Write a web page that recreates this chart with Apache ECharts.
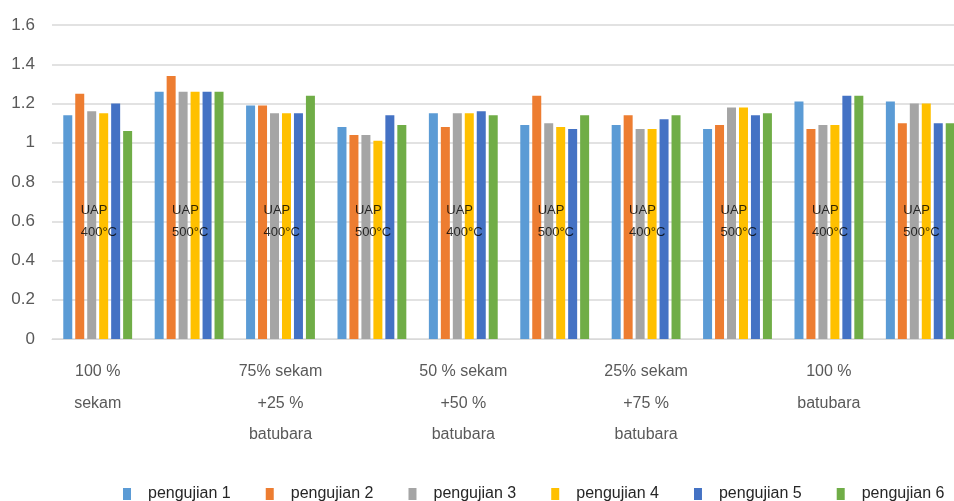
<!DOCTYPE html>
<html>
<head>
<meta charset="utf-8">
<script src="https://cdn.jsdelivr.net/npm/echarts@6/dist/echarts.min.js"></script>
<style>html,body{margin:0;padding:0;background:#fff;overflow:hidden;width:954px;height:501px}#c{width:966px;height:501px}</style>
</head>
<body>
<div id="c"></div>
<script>
// ---- data ----
var compositions = ['100 %\nsekam','100 %\nsekam','75% sekam\n+25 %\nbatubara','75% sekam\n+25 %\nbatubara','50 % sekam\n+50 %\nbatubara','50 % sekam\n+50 %\nbatubara','25% sekam\n+75 %\nbatubara','25% sekam\n+75 %\nbatubara','100 %\nbatubara','100 %\nbatubara'];
var temps = ['400°C','500°C','400°C','500°C','400°C','500°C','400°C','500°C','400°C','500°C'];
var seriesNames = ['pengujian 1','pengujian 2','pengujian 3','pengujian 4','pengujian 5','pengujian 6'];
var pengujian1 = [1.14,1.26,1.19,1.08,1.15,1.09,1.09,1.07,1.21,1.21];
var pengujian2 = [1.25,1.34,1.19,1.04,1.08,1.24,1.14,1.09,1.07,1.10];
var pengujian3 = [1.16,1.26,1.15,1.04,1.15,1.10,1.07,1.18,1.09,1.20];
var pengujian4 = [1.15,1.26,1.15,1.01,1.15,1.08,1.07,1.18,1.09,1.20];
var pengujian5 = [1.20,1.26,1.15,1.14,1.16,1.07,1.12,1.14,1.24,1.10];
var pengujian6 = [1.06,1.26,1.24,1.09,1.14,1.14,1.14,1.15,1.24,1.10];
var yTicks = [0,0.2,0.4,0.6,0.8,1,1.2,1.4,1.6];

var colors = ['#5B9BD5','#ED7D31','#A5A5A5','#FFC000','#4472C4','#70AD47'];
var values = [pengujian1,pengujian2,pengujian3,pengujian4,pengujian5,pengujian6];
var FONT = '"Liberation Sans", Arial, sans-serif';

var series = values.map(function(v,i){
  return {
    name: seriesNames[i], type:'bar', data:v,
    barWidth:9, barGap:'33%', barCategoryGap:'20%',
    itemStyle:{color:colors[i]},
    z:2
  };
});
series.push({
  name:'annot', type:'scatter', symbolSize:1,
  itemStyle:{color:'rgba(0,0,0,0)'},
  data: temps.map(function(t,i){return [i,0.6];}),
  z:5, silent:true,
  label:{
    show:true, position:'inside', align:'left', verticalAlign:'middle',
    offset:[-17,0],
    formatter:function(p){return 'UAP\n'+temps[p.dataIndex];},
    fontFamily:FONT, fontSize:13, lineHeight:22, color:'#000'
  }
});

var chart = echarts.init(document.getElementById('c'), null, {renderer:'canvas'});
chart.setOption({
  animation:false,
  backgroundColor:'#fff',
  color:colors,
  grid:{left:52, right:0, top:25, bottom:162, containLabel:false},
  legend:{
    data:seriesNames, left:118, top:481,
    icon:'rect', itemWidth:8, itemHeight:12, itemGap:35,
    textStyle:{fontFamily:FONT, fontSize:16, color:'#262626', padding:[0,0,0,12]}
  },
  xAxis:{
    type:'category', data:compositions,
    axisLine:{lineStyle:{color:'#D9D9D9', width:1}},
    axisTick:{show:false},
    axisLabel:{interval:1, margin:17, fontFamily:FONT, fontSize:16, lineHeight:31.5, color:'#595959'}
  },
  yAxis:{
    type:'value', min:0, max:1.6, interval:0.2,
    axisLine:{show:false}, axisTick:{show:false},
    axisLabel:{margin:17, fontFamily:FONT, fontSize:17, color:'#595959',
      formatter:function(v){var t=yTicks.find(function(x){return Math.abs(x-v)<1e-6;}); return String(t!==undefined?t:v);}},
    splitLine:{lineStyle:{color:'#D9D9D9', width:1.5}}
  },
  series:series
});
</script>
</body>
</html>
